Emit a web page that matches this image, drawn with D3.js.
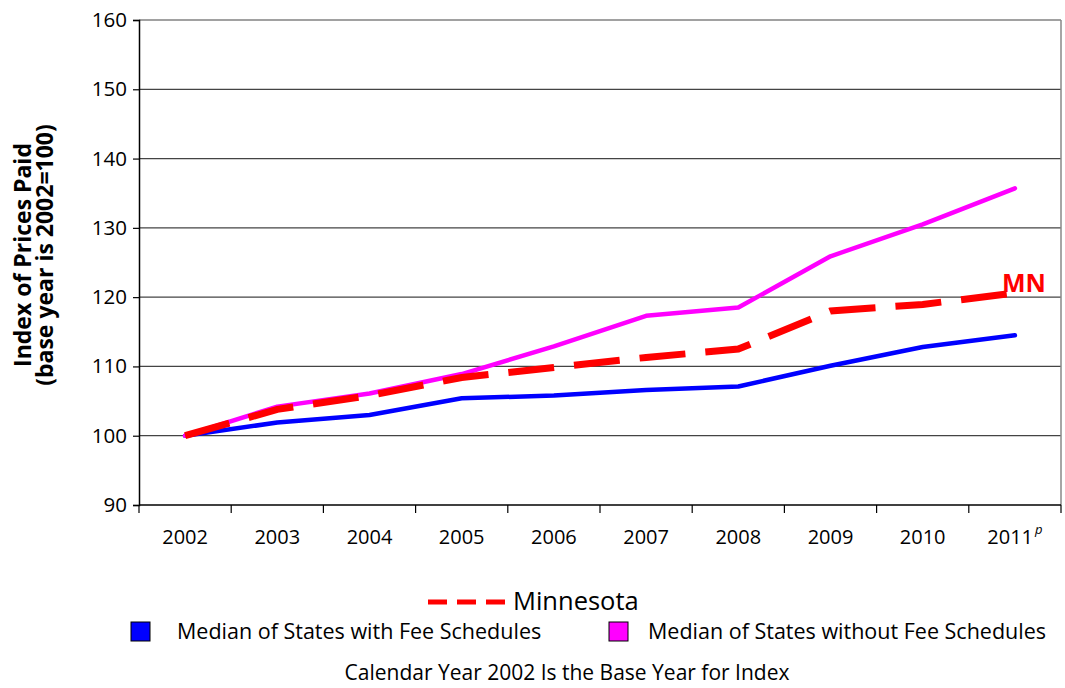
<!DOCTYPE html>
<html>
<head>
<meta charset="utf-8">
<script src="https://cdn.jsdelivr.net/npm/d3@7"></script>
<style>
  html, body { margin: 0; padding: 0; background: #fff; }
  svg { display: block; font-family: "Open Sans", "Liberation Sans", sans-serif; }
</style>
</head>
<body>
<svg id="chart" width="1065" height="688"></svg>
<script>
// Index of prices paid, calendar year 2002 = 100
const years = ["2002", "2003", "2004", "2005", "2006", "2007", "2008", "2009", "2010", "2011"];
const withFeeSchedules = [100, 101.9, 103.0, 105.4, 105.8, 106.6, 107.1, 110.1, 112.8, 114.5];
const withoutFeeSchedules = [100, 104.2, 106.1, 108.9, 112.9, 117.3, 118.5, 125.9, 130.5, 135.7];
const minnesota = [100, 103.8, 105.8, 108.4, 109.85, 111.3, 112.5, 118.0, 118.95, 120.6];
const yTicks = [90, 100, 110, 120, 130, 140, 150, 160];

const svg = d3.select("#chart");
const plot = { left: 139, right: 1061, top: 20, bottom: 505 };

const x = d3.scaleBand().domain(years).range([plot.left, plot.right]);
const y = d3.scaleLinear().domain([90, 160]).range([plot.bottom, plot.top]);

// horizontal gridlines
svg.append("g")
  .selectAll("line")
  .data(yTicks.filter(t => t > 90))
  .join("line")
  .attr("x1", plot.left).attr("x2", plot.right)
  .attr("y1", d => y(d)).attr("y2", d => y(d))
  .attr("stroke", "#444").attr("stroke-width", 1.2);

// right border of the plot area
svg.append("line")
  .attr("x1", plot.right).attr("x2", plot.right)
  .attr("y1", plot.top).attr("y2", plot.bottom)
  .attr("stroke", "#888").attr("stroke-width", 1.5);

// y axis
const yAxis = svg.append("g")
  .attr("transform", `translate(${plot.left},0)`)
  .call(d3.axisLeft(y).tickValues(yTicks).tickSize(6).tickPadding(6));
yAxis.select(".domain").attr("stroke", "#000").attr("stroke-width", 1.5);
yAxis.selectAll(".tick line").attr("stroke", "#000").attr("stroke-width", 1.2);
yAxis.selectAll("text")
  .attr("font-size", 20.5).attr("fill", "#000")
  .style("font-family", "'Open Sans', sans-serif");

// x axis with ticks on band boundaries
const xAxisG = svg.append("g").attr("transform", `translate(0,${plot.bottom})`);
xAxisG.append("line")
  .attr("x1", plot.left).attr("x2", plot.right)
  .attr("stroke", "#000").attr("stroke-width", 1.5);
const bounds = years.map(d => x(d)).concat([plot.right]);
xAxisG.selectAll("line.tick")
  .data(bounds)
  .join("line")
  .attr("class", "tick")
  .attr("x1", d => d).attr("x2", d => d)
  .attr("y1", 0).attr("y2", 8)
  .attr("stroke", "#000").attr("stroke-width", 1.2);
const xLabels = xAxisG.selectAll("text.lbl")
  .data(years)
  .join("text")
  .attr("class", "lbl")
  .attr("x", d => x(d) + x.bandwidth() / 2)
  .attr("y", 39)
  .attr("text-anchor", "middle")
  .attr("font-size", 20)
  .attr("fill", "#000")
  .text(d => d);
// preliminary marker on the final year
xLabels.filter(d => d === "2011")
  .append("tspan")
  .attr("dy", -10).attr("dx", 2)
  .attr("font-size", 13)
  .attr("font-style", "italic")
  .text("p");

// y axis title
const titleG = svg.append("g").attr("transform", "translate(0,255) rotate(-90)");
titleG.append("text")
  .attr("x", 0).attr("y", 31)
  .attr("text-anchor", "middle")
  .attr("font-size", 23).attr("font-weight", "bold")
  .text("Index of Prices Paid");
titleG.append("text")
  .attr("x", 0).attr("y", 53)
  .attr("text-anchor", "middle")
  .attr("font-size", 23).attr("font-weight", "bold")
  .text("(base year is 2002=100)");

const line = d3.line()
  .x((d, i) => x(years[i]) + x.bandwidth() / 2)
  .y(d => y(d));

// series lines
svg.append("path").datum(withFeeSchedules)
  .attr("d", line).attr("fill", "none")
  .attr("stroke", "#0000ff").attr("stroke-width", 4.5)
  .attr("stroke-linejoin", "round").attr("stroke-linecap", "round");
svg.append("path").datum(withoutFeeSchedules)
  .attr("d", line).attr("fill", "none")
  .attr("stroke", "#ff00ff").attr("stroke-width", 4.5)
  .attr("stroke-linejoin", "round").attr("stroke-linecap", "round");
svg.append("path").datum(minnesota)
  .attr("d", line).attr("fill", "none")
  .attr("stroke", "#ff0000").attr("stroke-width", 7)
  .attr("stroke-dasharray", "46,20");

// MN label at the end of the Minnesota line
svg.append("text")
  .attr("x", 1002).attr("y", y(minnesota[minnesota.length - 1]) - 1)
  .attr("font-size", 25).attr("font-weight", "bold")
  .attr("fill", "#ff0000")
  .text("MN");

// legend
const leg = svg.append("g");
leg.append("line")
  .attr("x1", 428).attr("x2", 505).attr("y1", 602).attr("y2", 602)
  .attr("stroke", "#ff0000").attr("stroke-width", 5)
  .attr("stroke-dasharray", "19,10");
leg.append("text")
  .attr("x", 513).attr("y", 610)
  .attr("font-size", 25.5).text("Minnesota");

leg.append("rect")
  .attr("x", 131).attr("y", 622).attr("width", 19).attr("height", 19)
  .attr("fill", "#0000ff").attr("stroke", "#000").attr("stroke-width", 1);
leg.append("text")
  .attr("x", 177).attr("y", 639)
  .attr("font-size", 21.5).text("Median of States with Fee Schedules");

leg.append("rect")
  .attr("x", 609).attr("y", 622).attr("width", 19).attr("height", 19)
  .attr("fill", "#ff00ff").attr("stroke", "#000").attr("stroke-width", 1);
leg.append("text")
  .attr("x", 648).attr("y", 639)
  .attr("font-size", 21.5).text("Median of States without Fee Schedules");

svg.append("text")
  .attr("x", 567).attr("y", 680)
  .attr("text-anchor", "middle")
  .attr("font-size", 21)
  .text("Calendar Year 2002 Is the Base Year for Index");
</script>
</body>
</html>
